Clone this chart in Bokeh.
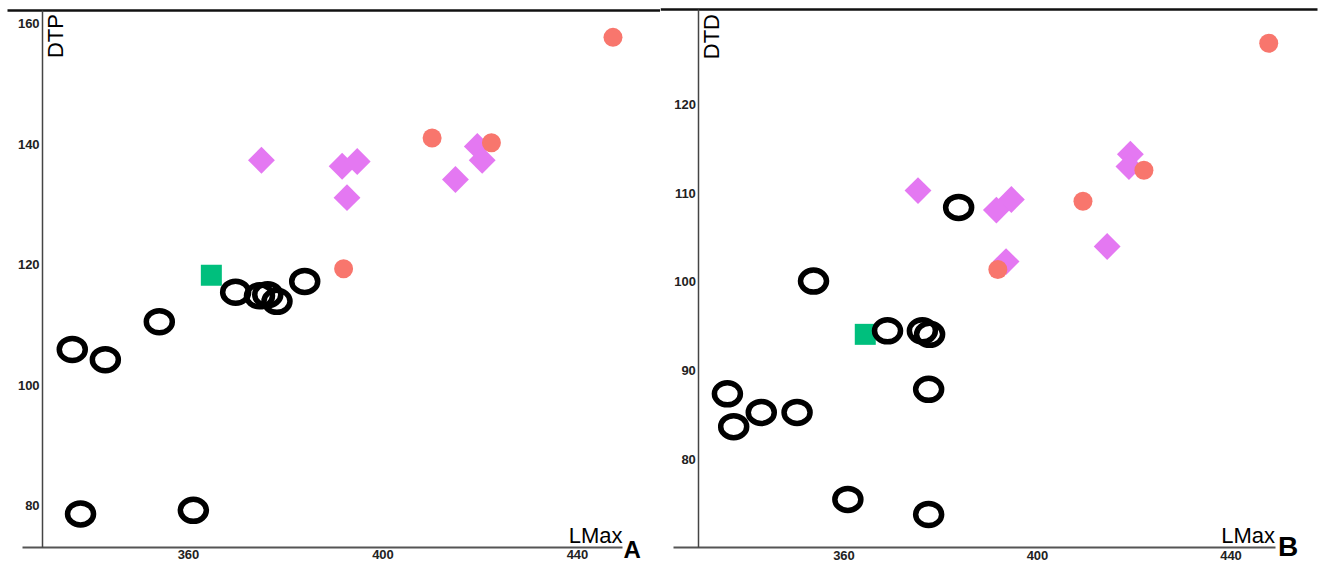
import math
from bokeh.plotting import figure
from bokeh.models import Range1d, FixedTicker, LinearAxis, Label
from bokeh.layouts import row
from bokeh.embed import file_html
from bokeh.resources import INLINE

# ---------------- data ----------------
# Panel A: LMax vs DTP
a_ring_x = [336.1, 342.9, 354.0, 337.8, 361.0, 369.7, 374.6, 376.3, 378.2, 383.9]
a_ring_y = [105.9, 104.2, 110.5, 78.6, 79.2, 115.4, 114.8, 115.0, 113.9, 117.2]
a_square_x = [364.7]
a_square_y = [118.2]
a_diamond_x = [375.0, 391.6, 394.7, 392.6, 414.9, 419.4, 420.4]
a_diamond_y = [137.3, 136.3, 137.1, 131.1, 134.1, 139.6, 137.3]
a_red_x = [410.1, 422.3, 391.9, 447.3]
a_red_y = [141.0, 140.2, 119.3, 157.7]

# Panel B: LMax vs DTD
b_ring_x = [335.9, 337.2, 342.9, 350.3, 360.8, 377.5, 377.5, 353.7, 383.7, 369.0, 376.2, 377.7]
b_ring_y = [87.4, 83.7, 85.3, 85.3, 75.5, 87.9, 73.8, 100.1, 108.4, 94.5, 94.5, 94.1]
b_square_x = [364.4]
b_square_y = [94.1]
b_diamond_x = [375.3, 391.5, 394.6, 393.5, 414.4, 419.2, 418.9]
b_diamond_y = [110.3, 108.1, 109.3, 102.3, 104.0, 114.4, 113.0]
b_red_x = [391.8, 409.4, 422.0, 447.8]
b_red_y = [101.4, 109.1, 112.6, 126.9]

x_ticks = [360, 400, 440]
a_y_ticks = [80, 100, 120, 140, 160]
b_y_ticks = [80, 90, 100, 110, 120]

RING = "#000000"
SQUARE = "#00BF7D"
DIAMOND = "#E478F2"
RED = "#F8766D"
FONT = "Liberation Sans"
Y_AXIS_AT = 330


def make_panel(width, xr, yr, x_bounds, y_bottom, y_top, top_bounds, yticks, ylabel,
               letter, letter_size, letter_dx, letter_dy,
               rx, ry, sx, sy, dx, dy, cx, cy):
    p = figure(width=width, height=562, x_range=Range1d(*xr), y_range=Range1d(*yr),
               output_backend="svg", toolbar_location=None,
               x_axis_location=None, y_axis_location=None,
               min_border_left=0, min_border_right=0, min_border_top=0, min_border_bottom=0)
    p.outline_line_color = None
    p.grid.visible = False
    p.background_fill_color = "white"
    p.border_fill_color = "white"

    # top rule
    top = LinearAxis(fixed_location=y_top, bounds=top_bounds, ticker=FixedTicker(ticks=[]),
                     major_tick_line_color=None, minor_tick_line_color=None,
                     major_tick_out=0, major_tick_in=0,
                     axis_line_color="#111111", axis_line_width=2.5)
    p.add_layout(top, "above")

    xa = LinearAxis(ticker=FixedTicker(ticks=x_ticks), fixed_location=y_bottom, bounds=x_bounds,
                    major_tick_line_color=None, minor_tick_line_color=None,
                    major_tick_out=0, major_tick_in=0, minor_tick_out=0,
                    axis_line_color="#555555", axis_line_width=2,
                    major_label_text_font=FONT, major_label_text_font_style="bold",
                    major_label_text_font_size="13px", major_label_text_color="#222222",
                    major_label_standoff=3)
    p.add_layout(xa, "below")

    ya = LinearAxis(ticker=FixedTicker(ticks=yticks), fixed_location=Y_AXIS_AT,
                    bounds=(y_bottom, y_top),
                    major_tick_line_color=None, minor_tick_line_color=None,
                    major_tick_out=0, major_tick_in=0, minor_tick_out=0,
                    axis_line_color="#444444", axis_line_width=1.5,
                    major_label_text_font=FONT, major_label_text_font_style="bold",
                    major_label_text_font_size="13px", major_label_text_color="#222222",
                    major_label_standoff=3)
    p.add_layout(ya, "left")

    p.scatter(sx, sy, marker="square", size=21, fill_color=SQUARE, line_color=None)
    p.scatter(dx, dy, marker="square", size=19, angle=math.pi / 4,
              fill_color=DIAMOND, line_color=None)
    p.scatter(cx, cy, marker="circle", size=19, fill_color=RED, line_color=None)
    p.ellipse(rx, ry, width=26, height=22, width_units="screen", height_units="screen",
              fill_color=None, line_color=RING, line_width=5.5)

    p.add_layout(Label(x=Y_AXIS_AT, y=y_top, text=ylabel, angle=math.pi / 2,
                       text_align="right", text_baseline="top", x_offset=0, y_offset=-4,
                       text_font=FONT, text_font_size="22px", text_color="black"))
    p.add_layout(Label(x=x_bounds[1], y=y_bottom, text="LMax", text_align="right",
                       text_baseline="alphabetic", x_offset=0, y_offset=12,
                       text_font=FONT, text_font_size="22px", text_color="black"))
    p.add_layout(Label(x=x_bounds[1], y=y_bottom, text=letter, text_align="left",
                       text_baseline="alphabetic", x_offset=letter_dx, y_offset=letter_dy,
                       text_font=FONT, text_font_style="bold",
                       text_font_size=letter_size, text_color="black"))
    return p


pa = make_panel(660, (321.34, 457.07), (70.54, 163.82), (325.9, 449.25), 73.03, 162.24,
                (322.78, 457.07), a_y_ticks, "DTP", "A", "24px", 1, -2,
                a_ring_x, a_ring_y, a_square_x, a_square_y, a_diamond_x, a_diamond_y,
                a_red_x, a_red_y)
pb = make_panel(663, (322.07, 459.12), (68.39, 131.72), (324.7, 449.1), 70.08, 130.65,
                (322.07, 457.88), b_y_ticks, "DTD", "B", "28px", 3, 1,
                b_ring_x, b_ring_y, b_square_x, b_square_y, b_diamond_x, b_diamond_y,
                b_red_x, b_red_y)

layout = row(pa, pb, spacing=0)

open("out.html", "w").write(file_html(layout, INLINE))
